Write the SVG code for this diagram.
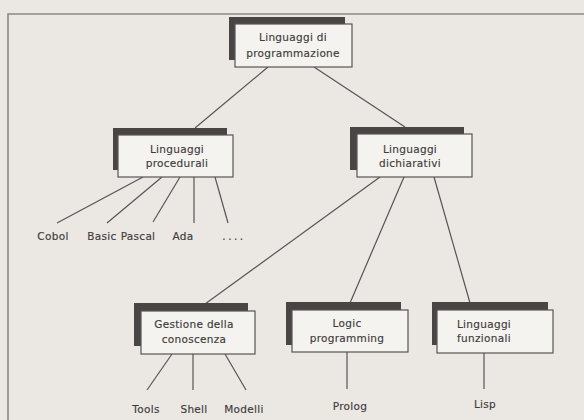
<svg xmlns="http://www.w3.org/2000/svg" width="584" height="420" viewBox="0 0 584 420">
<style>
.bg{fill:#ebe8e4}
.frame{fill:none;stroke:#8a8784;stroke-width:1.6}
.sh{fill:#4a4545}
.box{fill:#f5f3f0;stroke:#555;stroke-width:1.2}
.t{font-family:"DejaVu Sans",sans-serif;font-size:10.5px;fill:#3f3b3b;text-anchor:middle;letter-spacing:0.3px;stroke:#3f3b3b;stroke-width:0.15}
.c line{stroke:#555;stroke-width:1.2}
</style>
<rect class="bg" x="0" y="0" width="584" height="420"/>
<path class="frame" d="M8,420 V14 H584"/>
<g class="c" id="connectors">
<line x1="268" y1="67" x2="195" y2="128"/>
<line x1="314" y1="67" x2="405" y2="127"/>
<line x1="143" y1="177" x2="57" y2="223"/>
<line x1="162" y1="177" x2="107" y2="223"/>
<line x1="180" y1="177" x2="153" y2="222"/>
<line x1="194" y1="177" x2="194" y2="223"/>
<line x1="215" y1="177" x2="228" y2="223"/>
<line x1="380" y1="177" x2="205" y2="304"/>
<line x1="404" y1="177" x2="350" y2="303"/>
<line x1="434" y1="177" x2="470" y2="303"/>
<line x1="172" y1="354" x2="147" y2="390"/>
<line x1="193" y1="354" x2="193" y2="390"/>
<line x1="225" y1="354" x2="246" y2="390"/>
<line x1="347" y1="352" x2="347" y2="389"/>
<line x1="484" y1="353" x2="484" y2="389"/>
</g>
<g id="n-root">
<rect class="sh" x="229" y="17" width="116" height="43"/>
<rect class="box" x="235" y="24" width="117" height="43"/>
<text class="t" x="293" y="41">Linguaggi di</text>
<text class="t" x="293" y="57">programmazione</text>
</g>
<g id="n-procedurali">
<rect class="sh" x="113" y="128" width="114" height="42"/>
<rect class="box" x="118" y="135" width="115" height="42"/>
<text class="t" x="177" y="153">Linguaggi</text>
<text class="t" x="177" y="167">procedurali</text>
</g>
<g id="n-dichiarativi">
<rect class="sh" x="350" y="127" width="114" height="43"/>
<rect class="box" x="357" y="134" width="115" height="43"/>
<text class="t" x="410" y="153">Linguaggi</text>
<text class="t" x="410" y="167">dichiarativi</text>
</g>
<g id="n-gestione">
<rect class="sh" x="134" y="303" width="114" height="43"/>
<rect class="box" x="141" y="311" width="114" height="43"/>
<text class="t" x="194" y="328">Gestione della</text>
<text class="t" x="194" y="343">conoscenza</text>
</g>
<g id="n-logic">
<rect class="sh" x="286" y="302" width="115" height="43"/>
<rect class="box" x="292" y="310" width="116" height="42"/>
<text class="t" x="347" y="327">Logic</text>
<text class="t" x="347" y="342">programming</text>
</g>
<g id="n-funzionali">
<rect class="sh" x="432" y="302" width="116" height="43"/>
<rect class="box" x="437" y="310" width="116" height="43"/>
<text class="t" x="484" y="328">Linguaggi</text>
<text class="t" x="484" y="342">funzionali</text>
</g>
<g id="leaves">
<text class="t" x="53" y="240">Cobol</text>
<text class="t" x="102" y="240">Basic</text>
<text class="t" x="138" y="240">Pascal</text>
<text class="t" x="183" y="240">Ada</text>
<text class="t" x="234" y="240" style="letter-spacing:2.5px">....</text>
<text class="t" x="146" y="413">Tools</text>
<text class="t" x="194" y="413">Shell</text>
<text class="t" x="244" y="413">Modelli</text>
<text class="t" x="350" y="410">Prolog</text>
<text class="t" x="485" y="408">Lisp</text>
</g>
</svg>
